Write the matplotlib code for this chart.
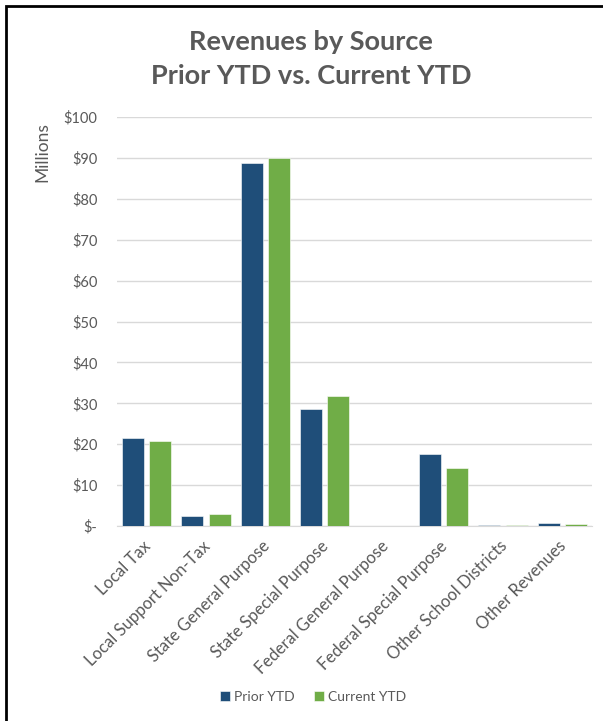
import numpy as np
import matplotlib.pyplot as plt
from matplotlib.patches import Rectangle
from matplotlib.ticker import FuncFormatter
from matplotlib.transforms import ScaledTranslation

# Ingresos por fuente (millones de dólares)
categorias = ['Local Tax', 'Local Support Non-Tax', 'State General Purpose',
              'State Special Purpose', 'Federal General Purpose',
              'Federal Special Purpose', 'Other School Districts', 'Other Revenues']
prior_ytd = [21.4, 2.4, 88.8, 28.6, 0.0, 17.6, 0.3, 0.65]
current_ytd = [20.9, 2.9, 89.9, 31.8, 0.0, 14.1, 0.25, 0.6]

azul = '#1F4E79'
verde = '#70AD47'
gris_texto = '#595959'

plt.rcParams['font.family'] = ['Lato', 'DejaVu Sans']

fig = plt.figure(figsize=(6.03, 7.21), dpi=100)
ax = fig.add_axes([117 / 603, 1 - 526 / 721, (592 - 117) / 603, (526 - 117) / 721])

x = np.arange(len(categorias))
ancho = 0.37
sep = 0.045
ax.bar(x - ancho / 2 - sep, prior_ytd, ancho, color=azul, edgecolor='white',
       linewidth=0.4, label='Prior YTD', zorder=3)
ax.bar(x + ancho / 2 + sep, current_ytd, ancho, color=verde, edgecolor='white',
       linewidth=0.4, label='Current YTD', zorder=3)

ax.set_xlim(-0.5, len(categorias) - 0.5)
ax.set_ylim(0, 100)
ax.set_yticks(range(0, 101, 10))
ax.yaxis.set_major_formatter(FuncFormatter(lambda v, p: '$-' if v == 0 else f'${v:.0f}'))
ax.grid(axis='y', color='#D9D9D9', linewidth=1.0, zorder=0)
for s in ['top', 'right', 'left']:
    ax.spines[s].set_visible(False)
ax.spines['bottom'].set_color('#D9D9D9')
ax.tick_params(axis='both', length=0, colors=gris_texto, labelsize=10.5)
ax.tick_params(axis='y', pad=14)

ax.set_xticks(x)
ax.set_xticklabels(categorias, rotation=45, ha='right', rotation_mode='anchor',
                   color=gris_texto, fontsize=12)
for t in ax.get_xticklabels():
    t.set_transform(t.get_transform() + ScaledTranslation(
        -3 / 72, -5 / 72, fig.dpi_scale_trans))

fig.text(42 / 603, 1 - 152 / 721, 'Millions', rotation=90, ha='center', va='center',
         color=gris_texto, fontsize=12.5)

fig.text(311 / 603, 1 - 42 / 721, 'Revenues by Source', ha='center', va='center',
         color=gris_texto, fontsize=19.5, fontweight='bold')
fig.text(311 / 603, 1 - 76 / 721, 'Prior YTD vs. Current YTD', ha='center', va='center',
         color=gris_texto, fontsize=19.5, fontweight='bold')

leg = fig.legend(loc='center', bbox_to_anchor=(313 / 603, 1 - 697 / 721), ncol=2,
                 frameon=False, fontsize=10, handlelength=0.7, handleheight=0.7,
                 handletextpad=0.3, columnspacing=1.4, labelcolor=gris_texto)

# marco del gráfico
fig.patches.append(Rectangle((6 / 603, -0.1), 1.2, 1 - 6 / 721 + 0.1,
                             transform=fig.transFigure, fill=False,
                             edgecolor='black', linewidth=2))

fig.savefig('out.png', dpi=100)
